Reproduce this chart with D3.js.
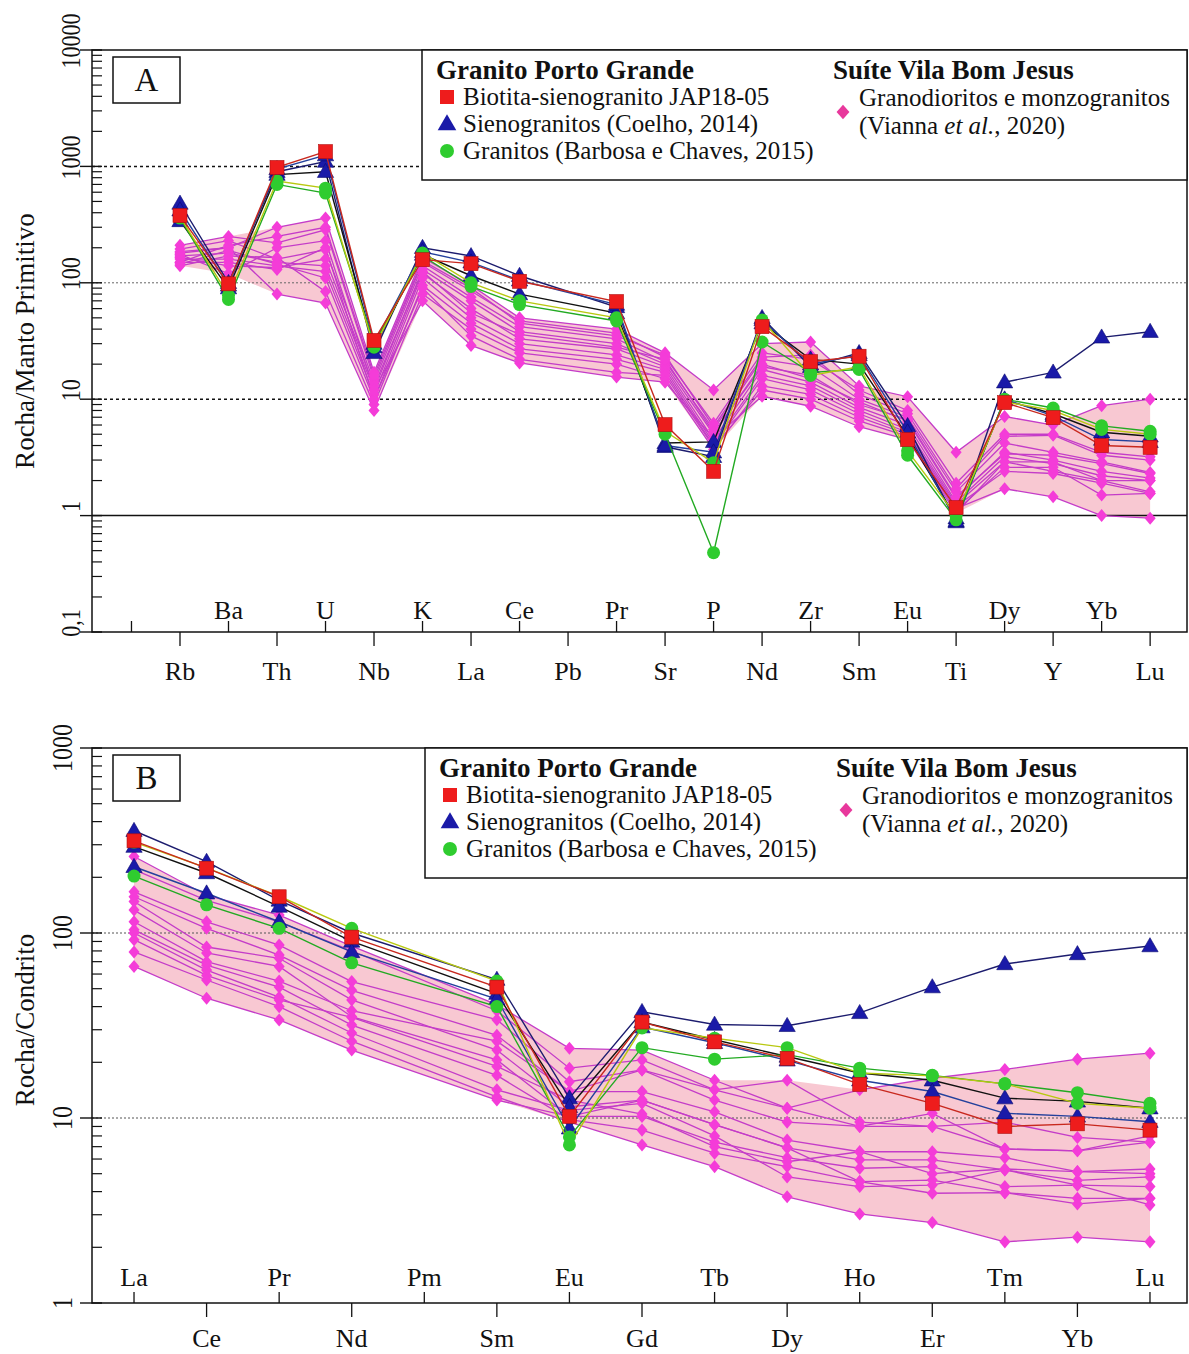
<!DOCTYPE html>
<html>
<head>
<meta charset="utf-8">
<script src="https://cdn.jsdelivr.net/npm/d3@7"></script>
<style>
body { margin: 0; background: #fff; }
svg text { font-family: "Liberation Serif", "Times New Roman", serif; fill: #111; }
</style>
</head>
<body>
<div class="canvas"></div>
<script>
// element order of the two diagrams
const spiderElems = ['Rb','Ba','Th','U','Nb','K','La','Ce','Pb','Pr','Sr','P','Nd','Zr','Sm','Eu','Ti','Dy','Y','Yb','Lu']
const reeElems = ['La','Ce','Pr','Nd','Pm','Sm','Eu','Gd','Tb','Dy','Ho','Er','Tm','Yb','Lu']

const yTicksA = [0.1, 1, 10, 100, 1000, 10000]
const yTickLabelsA = ['0,1', '1', '10', '100', '1000', '10000']
const yTicksB = [1, 10, 100, 1000]
const yTickLabelsB = ['1', '10', '100', '1000']

// A - primitive mantle normalized (Pb without data)
const japA = [378, 98, 980, 1340, 32, 158, 146, 103, null, 69, 6.05, 2.4, 42, 21, 23.4, 4.5, 1.17, 9.35, 6.95, 4.0, 3.86]
const coelhoA = [
    [480, 100, 900, 1100, 25, 200, 170, 115, null, 62, 3.9, 3.2, 50, 19, 25, 5.9, 0.88, 14, 17, 34, 38],
    [340, 90, 850, 900, 28, 175, 115, 80, null, 55, 4.2, 4.3, 45, 22, 20, 4.8, 0.95, 9.8, 7.5, 5.2, 4.8],
    [420, 95, 950, 1250, 30, 185, 150, 105, null, 65, 4.0, 3.5, 48, 20, 24, 5.2, 0.9, 10, 7.2, 4.5, 4.3]
]
const barbosaA = [
    [360, 72, 700, 590, 30, 170, 93, 65, null, 47, 5.0, 0.48, 31, 17, 18, 3.3, 0.92, 10, 8.4, 5.9, 5.3],
    [370, 78, 750, 650, 28, 180, 100, 70, null, 50, 5.3, 2.85, 48, 16, 19, 3.6, 1.0, 9.5, 8.0, 5.5, 5.0]
]
const viannaA = [
    [180, 200, 300, 360, 17, 165, 95, 50, null, 40, 25, 12, 30, 31, 13, 10.5, 3.5, 7.1, 6, 8.8, 10],
    [210, 250, 220, 285, 15, 150, 85, 47, null, 37, 23, 6.2, 25, 22, 12, 8, 1.9, 5, 5, 3.5, 3.2],
    [195, 230, 160, 192, 14, 140, 75, 42, null, 33, 21, 5.5, 22, 19, 10, 7, 1.6, 4.2, 3.5, 2.9, 2.35],
    [170, 180, 150, 140, 12, 130, 70, 38, null, 30, 20, 5, 20, 15, 9.5, 6.5, 1.4, 3.5, 3, 2.4, 2.1],
    [160, 160, 140, 125, 11, 120, 60, 33, null, 27, 19, 4.5, 18, 14, 8.5, 6, 1.3, 3.2, 2.8, 2.2, 2.0],
    [150, 150, 130, 200, 10, 110, 50, 30, null, 24, 18, 4.2, 16, 13, 8, 5.5, 1.25, 2.9, 2.4, 2.0, 1.6],
    [140, 170, 165, 84, 9, 95, 45, 27, null, 22, 17, 4, 15, 12, 7.5, 5.2, 1.2, 2.4, 2.3, 1.9, 1.55],
    [185, 200, 80, 67, 8, 80, 40, 25, null, 20, 15, 3.7, 13, 11, 7, 5, 1.15, 1.7, 1.45, 1.0, 0.95],
    [150, 210, 250, 300, 16, 155, 90, 45, null, 35, 24, 5.8, 23, 24, 11, 7.5, 1.7, 4.8, 4.9, 3.3, 3.0],
    [165, 140, 135, 160, 13, 125, 55, 36, null, 28, 22, 5.2, 19, 16, 9, 6.7, 1.45, 3.4, 3.3, 2.8, 2.3],
    [145, 190, 145, 110, 10, 90, 35, 22, null, 17, 16, 3.9, 12, 10, 6.5, 4.8, 1.1, 2.6, 2.6, 1.5, 1.55],
    [175, 120, 200, 230, 12, 70, 29, 20.5, null, 15.5, 14, 4.6, 10.6, 8.7, 5.8, 4.5, 1.05, 2.9, 2.9, 2.0, 2.0]
]

// B - chondrite normalized REE (Pm without data)
const japB = [315, 224, 157, 95, null, 51, 10.2, 33, 25.8, 21, 15.2, 12, 9.0, 9.3, 8.6]
const coelhoB = [
    [357, 243, 150, 100, null, 56, 12.8, 37.5, 32, 31.5, 37, 51, 68, 77, 85],
    [293, 211, 139, 90, null, 47, 11.5, 33, 26.5, 21.5, 17.5, 16, 12.8, 12.3, 11.3],
    [228, 164, 115, 79, null, 44, 8.8, 31, 25.5, 20.5, 16, 13.9, 10.6, 10.2, 9.55]
]
const barbosaB = [
    [203, 142, 106, 69, null, 40, 7.9, 24, 20.8, 22, 18.6, 17, 15.3, 13.7, 12],
    [310, 225, 158, 106, null, 55, 7.15, 30.7, 27, 24, 17.5, 16.9, 15.3, 12.0, 11.3]
]
const viannaB = [
    [259, 160, 125, 85, null, 41, 23.8, 23.3, 16, 11.3, 14.2, 16.4, 18.3, 20.8, 22.4],
    [220, 150, 115, 80, null, 38, 18.6, 20.6, 14.2, 16, 9.5, 9.0, 9.5, 7.85, 7.4],
    [167, 115, 86, 54.6, null, 34, 15.7, 18.2, 12.5, 9.5, 9.0, 10.6, 6.8, 6.65, 8.0],
    [157, 106, 76, 49, null, 28, 13.9, 13.9, 10.8, 7.6, 6.57, 6.57, 6.1, 5.13, 5.3],
    [148, 84, 73, 43.5, null, 23.3, 11.5, 12.5, 9.2, 6.9, 5.94, 5.94, 5.24, 4.6, 4.8],
    [133, 78, 66, 35.3, null, 20.6, 10.2, 10.2, 7.4, 6.1, 5.35, 5.46, 4.26, 4.34, 4.26],
    [104, 67, 51, 31.8, null, 17, 9.8, 8.6, 6.45, 5.46, 4.53, 4.62, 3.95, 3.68, 3.68],
    [100, 63, 45, 28.8, null, 14.2, 11, 12, 8, 4.8, 4.26, 4.34, 5.24, 4.34, 3.39],
    [92, 59, 43.5, 35, null, 19, 12.5, 10.5, 7, 5.8, 6.57, 5.0, 5.3, 5.13, 5.0],
    [79, 55.7, 40, 26, null, 13, 9.5, 7.15, 5.46, 3.75, 3.03, 2.72, 2.14, 2.27, 2.14],
    [66, 44.4, 33.9, 23.3, null, 12.5, 10.2, 12.5, 9.2, 6.9, 4.53, 3.92, 3.95, 3.43, 3.68],
    [115, 70, 55, 38, null, 26, 13.9, 18.2, 14.2, 11.3, 9.0, 9.0, 6.8, 6.65, 7.4]
]

const colJap = '#ee1c1c'
const colCoelho = '#1a1aa8'
const colBarbosa = '#2fcc2f'
const colVianna = '#f43cd8'
const colViannaLine = '#c43cc8'
const colEnvelope = '#f8c8d2'
const coelhoLines = ['#1c1c6e', '#111111', '#23409c']
const barbosaLines = ['#22aa22', '#b8c810']

const svg = d3.select('.canvas').append('svg').attr('width', 1189).attr('height', 1354)

function symbolPath(type, size) {
    return d3.symbol().type(type).size(size)()
}

function drawPanel(o) {
    const g = svg.append('g')
    const x = d3.scaleLinear().domain(o.xDomain).range([o.left, o.right])
    const y = d3.scaleLog().domain(o.yDomain).range([o.bottom, o.top])
    const n = o.elems.length

    const toPts = row => row.map((v, i) => ({ i, v })).filter(d => d.v != null)

    // envelope of the Vila Bom Jesus samples
    const env = o.elems.map((e, i) => {
        const vals = o.vianna.map(r => r[i]).filter(v => v != null)
        return vals.length ? { i, lo: d3.min(vals), hi: d3.max(vals) } : null
    }).filter(d => d)
    g.append('path')
        .attr('d', d3.area().x(d => x(d.i)).y0(d => y(d.lo)).y1(d => y(d.hi))(env))
        .attr('fill', colEnvelope)

    // horizontal reference lines
    o.grid.forEach(gl => {
        g.append('line')
            .attr('x1', o.left).attr('x2', o.right)
            .attr('y1', y(gl.v)).attr('y2', y(gl.v))
            .attr('stroke', gl.color).attr('stroke-width', gl.w)
            .attr('stroke-dasharray', gl.dash)
    })

    const line = d3.line().x(d => x(d.i)).y(d => y(d.v))

    // Vianna et al. samples
    o.vianna.forEach(r => {
        g.append('path').attr('d', line(toPts(r))).attr('fill', 'none')
            .attr('stroke', colViannaLine).attr('stroke-width', 1.3)
    })
    o.vianna.forEach(r => {
        g.selectAll(null).data(toPts(r)).enter().append('path')
            .attr('d', symbolPath(d3.symbolDiamond2, 108))
            .attr('transform', d => `translate(${x(d.i)},${y(d.v)}) scale(0.85,1)`)
            .attr('fill', colVianna)
    })

    // Coelho samples
    o.coelho.forEach((r, k) => {
        g.append('path').attr('d', line(toPts(r))).attr('fill', 'none')
            .attr('stroke', coelhoLines[k]).attr('stroke-width', 1.4)
    })
    o.coelho.forEach(r => {
        g.selectAll(null).data(toPts(r)).enter().append('path')
            .attr('d', symbolPath(d3.symbolTriangle, 115))
            .attr('transform', d => `translate(${x(d.i)},${y(d.v) + 1})`)
            .attr('fill', colCoelho).attr('stroke', '#0a0a70').attr('stroke-width', 0.6)
    })

    // Barbosa e Chaves samples
    o.barbosa.forEach((r, k) => {
        g.append('path').attr('d', line(toPts(r))).attr('fill', 'none')
            .attr('stroke', barbosaLines[k]).attr('stroke-width', 1.4)
    })
    o.barbosa.forEach(r => {
        g.selectAll(null).data(toPts(r)).enter().append('circle')
            .attr('cx', d => x(d.i)).attr('cy', d => y(d.v)).attr('r', 6.5)
            .attr('fill', colBarbosa)
    })

    // JAP18-05
    g.append('path').attr('d', line(toPts(o.jap))).attr('fill', 'none')
        .attr('stroke', '#c8281e').attr('stroke-width', 1.4)
    g.selectAll(null).data(toPts(o.jap)).enter().append('rect')
        .attr('x', d => x(d.i) - 7).attr('y', d => y(d.v) - 7)
        .attr('width', 14).attr('height', 14)
        .attr('fill', colJap).attr('stroke', '#b01010').attr('stroke-width', 0.6)

    // frame
    g.append('rect').attr('x', o.left).attr('y', o.top)
        .attr('width', o.right - o.left).attr('height', o.bottom - o.top)
        .attr('fill', 'none').attr('stroke', '#111').attr('stroke-width', 1.5)

    // y axis ticks
    const minor = y.ticks().filter(t => !o.yTicks.includes(t))
    g.selectAll(null).data(minor).enter().append('line')
        .attr('x1', o.left).attr('x2', o.left + 10)
        .attr('y1', d => y(d)).attr('y2', d => y(d))
        .attr('stroke', '#111').attr('stroke-width', 1.2)
    g.selectAll(null).data(o.yTicks).enter().append('line')
        .attr('x1', o.left - 12).attr('x2', o.left + 10)
        .attr('y1', d => y(d)).attr('y2', d => y(d))
        .attr('stroke', '#111').attr('stroke-width', 1.4)
    g.selectAll(null).data(o.yTicks).enter().append('text')
        .attr('transform', d => `translate(${o.left - o.labelGap},${y(d) + o.labelShift}) rotate(-90) scale(1,1.25)`)
        .attr('text-anchor', 'middle')
        .attr('font-size', o.labelSize)
        .text((d, i) => o.yTickLabels[i])

    g.append('text')
        .attr('transform', `translate(${o.left - 58},${o.titleY}) rotate(-90)`)
        .attr('text-anchor', 'middle').attr('font-size', 27)
        .text(o.yTitle)

    // x axis: alternating ticks above and below
    const idx = d3.range(o.firstTick, n)
    idx.forEach(i => {
        const up = Math.abs(i % 2) === o.upParity
        g.append('line')
            .attr('x1', x(i)).attr('x2', x(i))
            .attr('y1', o.bottom).attr('y2', up ? o.bottom - 11 : o.bottom + 14)
            .attr('stroke', '#111').attr('stroke-width', 1.3)
        if (i >= 0) {
            g.append('text')
                .attr('x', x(i)).attr('y', up ? o.bottom - o.upGap : o.bottom + o.downGap)
                .attr('text-anchor', 'middle').attr('font-size', 26)
                .text(o.elems[i])
        }
    })

    // panel letter
    g.append('rect').attr('x', 113).attr('y', o.top + 7).attr('width', 67).attr('height', 46)
        .attr('fill', '#fff').attr('stroke', '#111').attr('stroke-width', 1.5)
    g.append('text').attr('x', 146.5).attr('y', o.top + 41).attr('text-anchor', 'middle')
        .attr('font-size', 33).text(o.letter)

    // legend
    const lx = o.legendX, ly = o.top
    g.append('rect').attr('x', lx).attr('y', ly).attr('width', o.right - lx).attr('height', 130)
        .attr('fill', '#fff').attr('stroke', '#111').attr('stroke-width', 1.5)
    g.append('text').attr('x', lx + 14).attr('y', ly + 29).attr('font-size', 27)
        .attr('font-weight', 'bold').text('Granito Porto Grande')
    g.append('text').attr('x', lx + 411).attr('y', ly + 29).attr('font-size', 27)
        .attr('font-weight', 'bold').text('Suíte Vila Bom Jesus')
    const items = ['Biotita-sienogranito JAP18-05', 'Sienogranitos (Coelho, 2014)', 'Granitos (Barbosa e Chaves, 2015)']
    items.forEach((t, k) => {
        const cy = ly + 47 + k * 27
        const mx = lx + 25
        if (k === 0) g.append('rect').attr('x', mx - 7).attr('y', cy - 7).attr('width', 14).attr('height', 14).attr('fill', colJap)
        if (k === 1) g.append('path').attr('d', symbolPath(d3.symbolTriangle, 150)).attr('transform', `translate(${mx},${cy + 1})`).attr('fill', colCoelho)
        if (k === 2) g.append('circle').attr('cx', mx).attr('cy', cy).attr('r', 7).attr('fill', colBarbosa)
        g.append('text').attr('x', lx + 41).attr('y', cy + 8).attr('font-size', 25).text(t)
    })
    g.append('path').attr('d', symbolPath(d3.symbolDiamond2, 130))
        .attr('transform', `translate(${lx + 421},${ly + 62}) scale(0.9,1)`).attr('fill', '#e8389c')
    g.append('text').attr('x', lx + 437).attr('y', ly + 56).attr('font-size', 25).text('Granodioritos e monzogranitos')
    const vt = g.append('text').attr('x', lx + 437).attr('y', ly + 84).attr('font-size', 25)
    vt.append('tspan').text('(Vianna ')
    vt.append('tspan').attr('font-style', 'italic').text('et al.')
    vt.append('tspan').text(', 2020)')
}

drawPanel({
    elems: spiderElems, jap: japA, coelho: coelhoA, barbosa: barbosaA, vianna: viannaA,
    left: 92, right: 1187, top: 50, bottom: 632,
    xDomain: [-1.814, 20.76], yDomain: [0.1, 10000],
    yTicks: yTicksA, yTickLabels: yTickLabelsA,
    labelGap: 12, labelShift: -9, labelSize: 22,
    yTitle: 'Rocha/Manto Primitivo', titleY: 341,
    grid: [
        { v: 1000, color: '#111', w: 1.5, dash: '3,3' },
        { v: 100, color: '#666', w: 1, dash: '2,2' },
        { v: 10, color: '#111', w: 1.5, dash: '3,3' },
        { v: 1, color: '#111', w: 1.5, dash: null }
    ],
    firstTick: -1, upParity: 1, upGap: 13, downGap: 48, letter: 'A', legendX: 422
})

drawPanel({
    elems: reeElems, jap: japB, coelho: coelhoB, barbosa: barbosaB, vianna: viannaB,
    left: 92, right: 1187, top: 748, bottom: 1303,
    xDomain: [-0.579, 14.51], yDomain: [1, 1000],
    yTicks: yTicksB, yTickLabels: yTickLabelsB,
    labelGap: 20, labelShift: 0, labelSize: 24,
    yTitle: 'Rocha/Condrito', titleY: 1020,
    grid: [
        { v: 100, color: '#555', w: 1, dash: '2,2' },
        { v: 10, color: '#555', w: 1, dash: '2,2' }
    ],
    firstTick: 0, upParity: 0, upGap: 17, downGap: 44, letter: 'B', legendX: 425
})
</script>
</body>
</html>
